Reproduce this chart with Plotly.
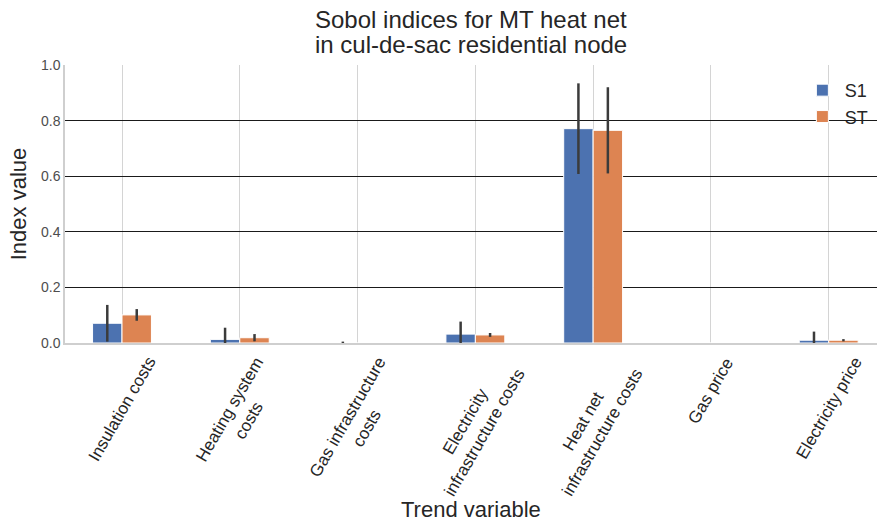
import plotly.graph_objects as go

categories = ["Insulation costs", "Heating system costs", "Gas infrastructure costs",
              "Electricity infrastructure costs", "Heat net infrastructure costs",
              "Gas price", "Electricity price"]
tick_labels = ["Insulation costs", "Heating system<br>costs", "Gas infrastructure<br>costs",
               "Electricity<br>infrastructure costs", "Heat net<br>infrastructure costs",
               "Gas price", "Electricity price"]
s1_values = [0.071, 0.013, 0.0, 0.032, 0.771, 0.0, 0.010]
s1_errors = [0.066, 0.042, 0.005, 0.045, 0.163, 0.0, 0.031]
st_values = [0.101, 0.019, 0.0, 0.029, 0.765, 0.0, 0.010]
st_errors = [0.021, 0.013, 0.0, 0.007, 0.155, 0.0, 0.004]
y_ticks = [0.0, 0.2, 0.4, 0.6, 0.8, 1.0]
grid_ticks = [0.2, 0.4, 0.6, 0.8]
title_lines = ["Sobol indices for MT heat net", "in cul-de-sac residential node"]

FONT = "Liberation Sans, Arial, sans-serif"
TXT = "#262626"
x_idx = list(range(len(categories)))

fig = go.Figure()
fig.add_trace(go.Bar(
    x=x_idx, y=s1_values, name="S1",
    marker=dict(color="#4C72B0", line=dict(color="white", width=1)),
    error_y=dict(type="data", array=s1_errors, color="#3b3b3b", thickness=2.5, width=0),
))
fig.add_trace(go.Bar(
    x=x_idx, y=st_values, name="ST",
    marker=dict(color="#DD8452", line=dict(color="white", width=1)),
    error_y=dict(type="data", array=st_errors, color="#3b3b3b", thickness=2.5, width=0),
))
# invisible trace hosting the black horizontal grid on an overlay axis
fig.add_trace(go.Scatter(x=[0], y=[0], yaxis="y2", mode="markers",
                         marker=dict(opacity=0), showlegend=False, hoverinfo="skip"))

for i, lab in enumerate(tick_labels):
    fig.add_annotation(x=i, y=-0.03, xref="x", yref="paper", text=lab, showarrow=False,
                       textangle=-60, xanchor="center", yanchor="top",
                       font=dict(family=FONT, size=17, color=TXT))

fig.add_annotation(x=0.5, y=-0.60, xref="paper", yref="paper", text="Trend variable",
                   showarrow=False, xanchor="center", yanchor="middle",
                   font=dict(family=FONT, size=22, color=TXT))

for line, ypos in zip(title_lines, [1.162, 1.072]):
    fig.add_annotation(x=0.5, y=ypos, xref="paper", yref="paper", text=line,
                       showarrow=False, xanchor="center", yanchor="middle",
                       font=dict(family=FONT, size=24, color=TXT))

fig.update_layout(
    width=877, height=524,
    margin=dict(l=65, r=0, t=65, b=181),
    paper_bgcolor="white", plot_bgcolor="white",
    barmode="group", bargap=0.5, bargroupgap=0.0,
    font=dict(family=FONT, color=TXT),
    xaxis=dict(range=[-0.484, 6.41], tickvals=x_idx, showticklabels=False,
               showgrid=True, gridcolor="#d4d4d4", gridwidth=1.2,
               showline=True, linecolor="#cfcfcf", linewidth=1.5,
               zeroline=False, ticks=""),
    yaxis=dict(range=[0, 1.0], tickvals=y_ticks, ticktext=[f"{v:.1f}" for v in y_ticks],
               showgrid=False, zeroline=False, showline=True, linecolor="#cfcfcf",
               linewidth=1.5, ticks="", tickfont=dict(family=FONT, size=14, color="#4d4d4d"),
               title=dict(text="Index value", font=dict(family=FONT, size=22, color=TXT),
                          standoff=8)),
    yaxis2=dict(range=[0, 1.0], overlaying="y", tickvals=grid_ticks, showticklabels=False,
                showgrid=True, gridcolor="#1a1a1a", gridwidth=1.2, zeroline=False,
                showline=False, ticks=""),
    legend=dict(x=0.905, y=0.975, xanchor="left", yanchor="top", bgcolor="rgba(0,0,0,0)",
                font=dict(family=FONT, size=18, color=TXT), itemwidth=35),
    showlegend=True,
)

fig.write_html("out.html")
